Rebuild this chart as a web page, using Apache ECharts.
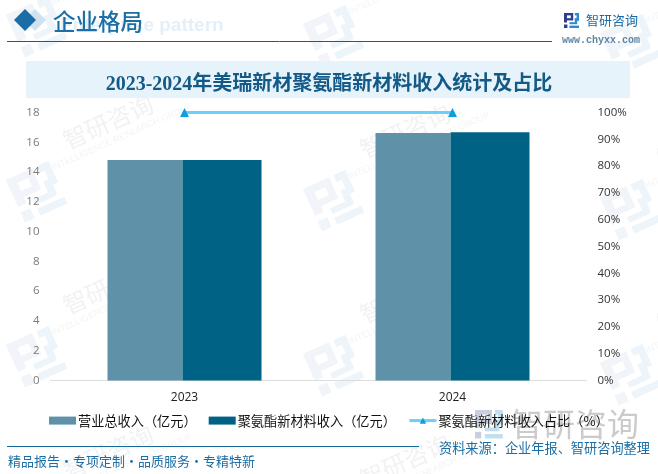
<!DOCTYPE html>
<html>
<head>
<meta charset="utf-8">
<style>html,body{margin:0;padding:0;background:#fff}#c{width:658px;height:474px}</style>
<script src="https://cdn.jsdelivr.net/npm/echarts@6/dist/echarts.min.js"></script>
</head>
<body>
<div id="c"></div>
<script>
const categories = ['2023', '2024'];
const revenue = [14.81, 16.62];
const puRevenue = [14.81, 16.68];
const puShare = [100, 100];
const seriesNames = ['营业总收入（亿元）', '聚氨酯新材料收入（亿元）', '聚氨酯新材料收入占比（%）'];
const chartTitle = '2023-2024年美瑞新材聚氨酯新材料收入统计及占比';

const CJK = '"Noto Sans CJK SC","Microsoft YaHei",sans-serif';

function logoParts(a, b) {
  const r = (x, y, w, h, fill) => ({ type: 'rect', shape: { x, y, width: w, height: h }, style: { fill } });
  return [
    r(0, 0, 9, 2.4, a), r(0, 0, 3, 9.5, a), r(6.8, 0, 2.4, 7.2, a), r(3, 5.2, 6, 2.2, a), r(0, 11.5, 3.4, 3.5, a),
    r(10.8, 0, 4.2, 2.4, b), r(12.6, 0, 2.4, 7.5, b), r(10.8, 5.4, 4.2, 2.2, b), r(10.8, 5.4, 2.4, 5.4, b),
    r(5.4, 9.2, 7.4, 2, b), r(5.4, 12.6, 9.6, 2.4, b)
  ];
}
function tile(x, y) {
  return [
    { type: 'group', x: x - 22, y: y + 10, rotation: 0.42, scaleX: 3.1, scaleY: 3.1, z: 0, silent: true,
      children: logoParts('#f1f4f8', '#edf5fb') },
    { type: 'text', x: x + 80, y: y - 48, rotation: 0.42, z: 0, silent: true,
      style: { text: '智研咨询', font: '24px ' + CJK, fill: '#f1f2f4', align: 'center', verticalAlign: 'middle', letterSpacing: 4 } },
    { type: 'text', x: x + 94, y: y - 33, rotation: 0.42, z: 0, silent: true,
      style: { text: 'INTELLIGENCE RESEARCH GROUP', font: '9px "Liberation Sans"', fill: '#f3f4f5', align: 'center', verticalAlign: 'middle' } }
  ];
}
const tiles = [];
for (let i = 0; i < 3; i++) for (let j = -1; j < 3; j++) tiles.push(...tile(28 + 297 * i, 170 + 165 * j + 9 * i));

const graphics = [
  ...tiles,
  { type: 'rect', z: 1, silent: true, shape: { x: 26, y: 61, width: 604, height: 37 }, style: { fill: '#e7f3fb' } },
  { type: 'text', z: 1, silent: true, x: 60, y: 26, style: { text: 'Enterprise pattern', font: 'bold 19px "Liberation Sans"', fill: '#e3f0fa', align: 'left', verticalAlign: 'middle' } },
  { type: 'polygon', z: 1, silent: true, shape: { points: [[35, 9], [46, 20], [35, 31], [24, 20]] }, style: { fill: '#cfe2ee' } },
  { type: 'polygon', z: 2, silent: true, shape: { points: [[25, 9], [36, 20], [25, 31], [14, 20]] }, style: { fill: '#1a6da6' } },
  { type: 'text', z: 3, silent: true, x: 53, y: 21, style: { text: '企业格局', font: '500 22.5px ' + CJK, fill: '#1d6ea5', align: 'left', verticalAlign: 'middle' } },
  { type: 'line', z: 3, silent: true, shape: { x1: 7, y1: 41.5, x2: 552, y2: 41.5 }, style: { stroke: '#1a5c88', lineWidth: 1 } },
  { type: 'group', x: 564, y: 13, z: 3, silent: true, children: logoParts('#2c3e8c', '#2b8bd2') },
  { type: 'text', z: 3, silent: true, x: 586, y: 20, style: { text: '智研咨询', font: '13px ' + CJK, fill: '#1c6aa3', align: 'left', verticalAlign: 'middle', letterSpacing: 0.6 } },
  { type: 'text', z: 3, silent: true, x: 562, y: 40, style: { text: 'www.chyxx.com', font: 'bold 10px "Liberation Mono"', fill: '#5f86a3', align: 'left', verticalAlign: 'middle' } },
  { type: 'group', x: 475, y: 410, scaleX: 1.85, scaleY: 1.9, z: 1, silent: true, children: logoParts('#c9d0dd', '#c3deef') },
  { type: 'text', z: 1, silent: true, x: 511, y: 424, style: { text: '智研咨询', font: '32px ' + CJK, fill: '#cbcbcb', align: 'left', verticalAlign: 'middle' } },
  { type: 'line', z: 3, silent: true, shape: { x1: 7, y1: 446.5, x2: 419, y2: 446.5 }, style: { stroke: '#136a9c', lineWidth: 1 } },
  { type: 'text', z: 5, silent: true, x: 8, y: 461, style: { text: '精品报告·专项定制·品质服务·专精特新', font: '13px ' + CJK, fill: '#1b6ea6', align: 'left', verticalAlign: 'middle' } },
  { type: 'text', z: 5, silent: true, x: 439, y: 448, style: { text: '资料来源：企业年报、智研咨询整理', font: '13.2px ' + CJK, fill: '#1b6ea6', align: 'left', verticalAlign: 'middle', letterSpacing: 0.8 } }
];

const chart = echarts.init(document.getElementById('c'), null, { renderer: 'canvas' });
chart.setOption({
  animation: false,
  backgroundColor: '#fff',
  title: {
    text: chartTitle, left: 'center', top: 68, itemGap: 0,
    textStyle: { fontFamily: '"Liberation Serif",' + CJK, fontSize: 20, fontWeight: 'bold', color: '#145a86', lineHeight: 24 }
  },
  graphic: graphics,
  grid: { left: 50.5, right: 71.5, top: 112.5, bottom: 93.5, containLabel: false },
  legend: {
    left: 49, top: 414, padding: 0, itemWidth: 27, itemHeight: 8, itemGap: 12,
    textStyle: { fontFamily: CJK, fontSize: 13.2, color: '#111', padding: [0, 0, 0, -3] },
    data: [
      { name: seriesNames[0], icon: 'rect' },
      { name: seriesNames[1], icon: 'rect' },
      { name: seriesNames[2], lineStyle: { width: 3, color: '#6bd0f5' } }
    ]
  },
  xAxis: {
    type: 'category', data: categories,
    axisTick: { show: false },
    axisLine: { lineStyle: { color: '#dcdcdc', width: 1 } },
    axisLabel: { fontFamily: '"Open Sans","Liberation Sans"', fontSize: 12, color: '#222', margin: 11 }
  },
  yAxis: [
    { type: 'value', min: 0, max: 18, interval: 2, splitLine: { show: false }, axisLine: { show: false }, axisTick: { show: false },
      axisLabel: { fontFamily: '"Open Sans","Liberation Sans"', fontSize: 11.5, color: '#7a7a7a', margin: 11, padding: [0, 0, 4, 0] } },
    { type: 'value', min: 0, max: 100, interval: 10, splitLine: { show: false }, axisLine: { show: false }, axisTick: { show: false },
      axisLabel: { formatter: '{value}%', fontFamily: '"Open Sans","Liberation Sans"', fontSize: 11.5, color: '#333', margin: 11 } }
  ],
  series: [
    { name: seriesNames[0], type: 'bar', data: revenue, barWidth: 75, barGap: 0, itemStyle: { color: '#5f91a9' }, z: 3 },
    { name: seriesNames[1], type: 'bar', data: puRevenue, barWidth: 79, barGap: 0, itemStyle: { color: '#006285' }, z: 3 },
    { name: seriesNames[2], type: 'line', yAxisIndex: 1, data: puShare, symbol: 'triangle', symbolSize: 9, showSymbol: true,
      lineStyle: { color: '#6bd0f5', width: 3 }, itemStyle: { color: '#0f9fdc' }, z: 4 }
  ]
});
</script>
</body>
</html>
